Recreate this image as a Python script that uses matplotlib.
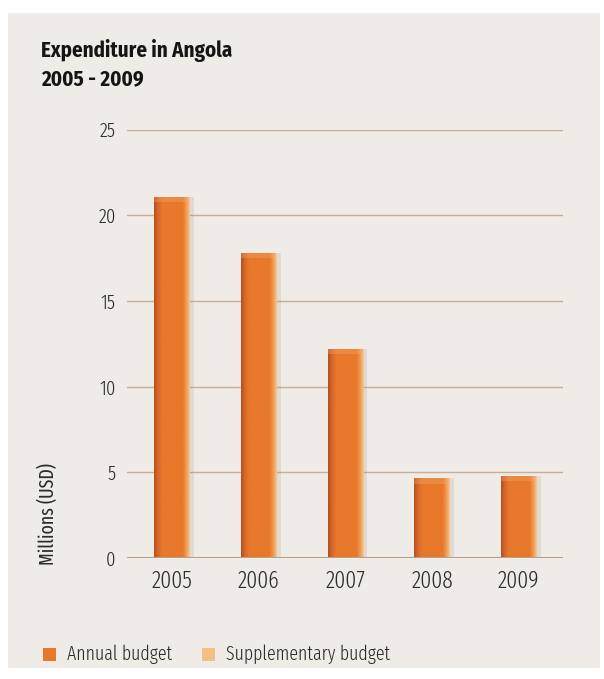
import numpy as np
import matplotlib.pyplot as plt
from matplotlib.patches import Rectangle
from matplotlib.colors import LinearSegmentedColormap

years = ["2005", "2006", "2007", "2008", "2009"]
annual_budget = [21.1, 17.8, 12.2, 4.65, 4.8]
y_ticks = [0, 5, 10, 15, 20, 25]
legend_labels = ["Annual budget", "Supplementary budget"]

orange = "#E8782A"
light_orange = "#F4BE85"
paper = "#EFEBE6"
grid_col = "#C8AE98"
text_col = "#2B2B2B"

thin_font = ['Fira Sans Extra Condensed', 'DejaVu Sans']
title_font = ['Fira Sans Condensed', 'DejaVu Sans']
plt.rcParams['font.family'] = thin_font
plt.rcParams['font.weight'] = 300

fig = plt.figure(figsize=(6.04, 6.79), dpi=100)
fig.patch.set_facecolor("white")
# paper panel behind everything
fig.patches.append(Rectangle((0.014, 0.016), 0.98, 0.965, transform=fig.transFigure,
                             facecolor=paper, edgecolor="none", zorder=-10))

ax = fig.add_axes([0.21, 0.178, 0.722, 0.631])
ax.set_facecolor("none")

x = np.arange(len(years))
bw = 0.41

# soft shadow to the right
ax.bar(x + 0.05, annual_budget, width=bw, color="#9A8F86", alpha=0.18, zorder=2, linewidth=0)
bars = ax.bar(x, annual_budget, width=bw, color=orange, zorder=3, linewidth=0)

# horizontal gradient on each bar: dark left edge, light right edge
cmap = LinearSegmentedColormap.from_list("bar", [
    (0.0, "#B4501B"), (0.1, "#D4652A"), (0.22, orange), (0.8, orange),
    (0.9, "#F19A52"), (1.0, "#F7C896")])
grad = np.linspace(0, 1, 256).reshape(1, -1)
for b in bars:
    x0, w, h = b.get_x(), b.get_width(), b.get_height()
    im = ax.imshow(grad, cmap=cmap, aspect="auto", extent=(x0, x0 + w, 0, h), zorder=3.5)
    im.set_clip_path(b)
    # faint top bevel
    ax.bar(x0 + w / 2, 0.3, bottom=h - 0.3, width=w, color="#F6B27A",
           alpha=0.3, zorder=3.6, linewidth=0)

ax.set_xlim(-0.52, 4.51)
ax.set_ylim(0, 25)
ax.set_yticks(y_ticks)
ax.set_yticklabels([str(t) for t in y_ticks], fontsize=14.5, color=text_col)
ax.set_xticks(x)
ax.set_xticklabels(years, fontsize=17, color=text_col)
ax.tick_params(axis="both", length=0)
ax.tick_params(axis="y", pad=8)
ax.tick_params(axis="x", pad=8)

for t in y_ticks[1:]:
    ax.axhline(t, color=grid_col, lw=1.0, zorder=1)
ax.axhline(0, color="#B9A08A", lw=2.2, zorder=4)

for s in ax.spines.values():
    s.set_visible(False)

ax.set_ylabel("Millions (USD)", fontsize=14, color=text_col)
ax.yaxis.set_label_coords(-0.158, -0.015, transform=ax.transAxes)
ax.yaxis.label.set_va("bottom")
ax.yaxis.label.set_ha("left")
ax.yaxis.label.set_rotation_mode("anchor")

fig.text(0.068, 0.916, "Expenditure in Angola", fontsize=15, fontweight="bold", color="#151515",
         family=title_font, va="baseline")
fig.text(0.068, 0.875, "2005 - 2009", fontsize=15, fontweight="bold", color="#151515",
         family=title_font, va="baseline")

# legend
for i, (lab, col) in enumerate(zip(legend_labels, [orange, light_orange])):
    lx = [0.071, 0.335][i]
    fig.patches.append(Rectangle((lx, 0.0265), 0.021, 0.019, transform=fig.transFigure,
                                 facecolor=col, edgecolor="none"))
    fig.text(lx + 0.04, 0.036, lab, fontsize=14, color=text_col, va="center")

fig.savefig("out.png", dpi=100, facecolor=fig.get_facecolor())
